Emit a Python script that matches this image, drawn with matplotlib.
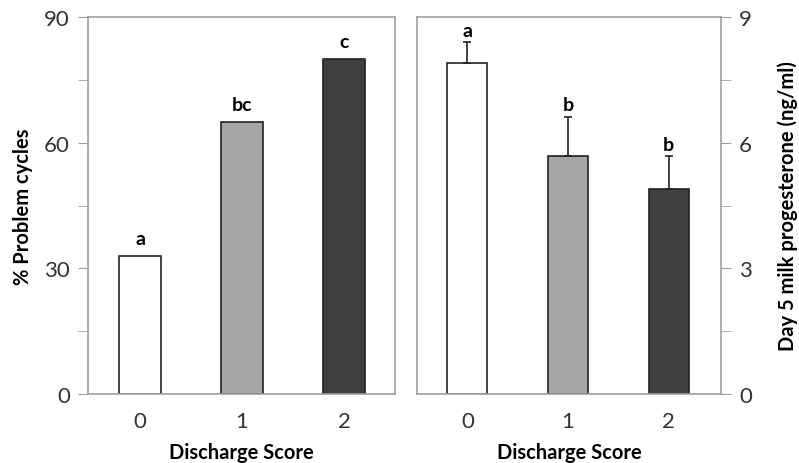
import numpy as np
import matplotlib.pyplot as plt
from matplotlib.ticker import MultipleLocator

plt.rcParams['font.family'] = ['Lato', 'DejaVu Sans']

scores = ['0', '1', '2']
problem_pct = [33, 65, 80]
problem_letters = ['a', 'bc', 'c']
prog_mean = [7.9, 5.68, 4.89]
prog_err = [0.5, 0.94, 0.79]
prog_letters = ['a', 'b', 'b']
bar_colors = ['white', '#a6a6a6', '#404040']

spine_c = '#a0a0a0'
tick_c = '#333333'

fig = plt.figure(figsize=(7.99, 4.64), dpi=100)
W, H = 799, 464
ax1 = fig.add_axes([88/W, 1-395/H, (395-88)/W, (395-18)/H])
ax2 = fig.add_axes([417/W, 1-395/H, (721-417)/W, (395-18)/H])

x = np.arange(len(scores))

# left panel
ax1.bar(x, problem_pct, width=0.42, color=bar_colors, edgecolor='#222222', linewidth=1.2)
for xi, v, t in zip(x, problem_pct, problem_letters):
    ax1.text(xi, v + 2.2, t, ha='center', va='bottom', fontsize=14, fontweight='bold')
ax1.set_ylim(0, 90)
ax1.set_xlim(-0.51, 2.5)
ax1.yaxis.set_major_locator(MultipleLocator(30))
ax1.yaxis.set_minor_locator(MultipleLocator(15))
ax1.set_ylabel('% Problem cycles', fontsize=14.5, fontweight='bold', labelpad=8)

# right panel
ax2.bar(x, prog_mean, width=0.4, color=bar_colors, edgecolor='#222222', linewidth=1.2,
        yerr=[np.zeros(3), prog_err], error_kw=dict(ecolor='#222222', elinewidth=1.2, capsize=3, capthick=1.2))
for xi, v, e, t in zip(x, prog_mean, prog_err, prog_letters):
    ax2.text(xi, v + e + 0.08, t, ha='center', va='bottom', fontsize=14, fontweight='bold')
ax2.set_ylim(0, 9)
ax2.set_xlim(-0.5, 2.52)
ax2.yaxis.set_major_locator(MultipleLocator(3))
ax2.yaxis.set_minor_locator(MultipleLocator(1.5))
ax2.yaxis.tick_right()
ax2.yaxis.set_label_position('right')
ax2.set_ylabel('Day 5 milk progesterone (ng/ml)', fontsize=14.5, fontweight='bold', labelpad=18)

for ax in (ax1, ax2):
    ax.set_xticks(x)
    ax.set_xticklabels(scores)
    ax.set_xlabel('Discharge Score', fontsize=14.5, fontweight='bold', labelpad=8)
    for s in ax.spines.values():
        s.set_color(spine_c)
        s.set_linewidth(1.2)
    ax.tick_params(axis='x', length=0, labelsize=16, labelcolor=tick_c, pad=12)
    ax.tick_params(axis='y', which='major', length=7, color=spine_c, labelsize=16, labelcolor=tick_c, pad=6)
    ax.tick_params(axis='y', which='minor', length=7, color=spine_c)

fig.savefig('out.png', dpi=100)
